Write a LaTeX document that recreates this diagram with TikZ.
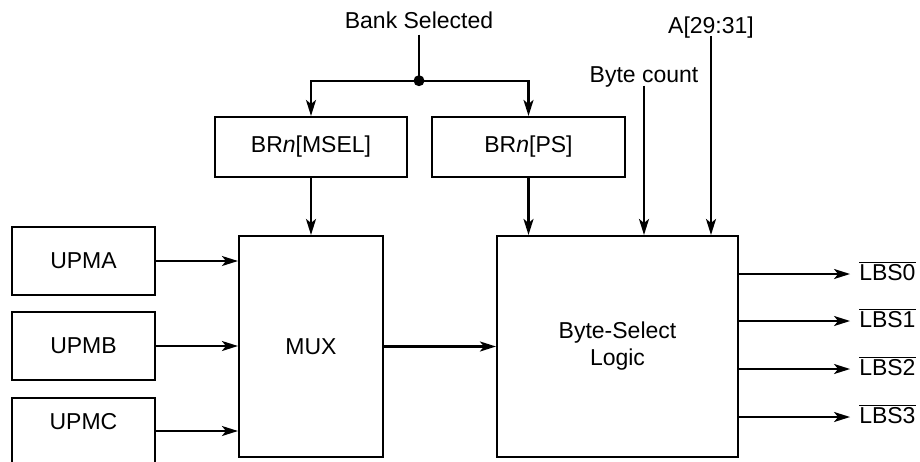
\documentclass[tikz,border=0pt]{standalone}
\usepackage{fontspec}
\setmainfont{Liberation Sans}
\usetikzlibrary{arrows.meta,calc}
\begin{document}
\begin{tikzpicture}[x=1pt,y=-1pt,
  every node/.append style={font=\fontsize{23}{27}\selectfont},
  box/.style={draw, line width=2.1pt, inner sep=0pt, align=center},
  lbl/.style={inner sep=1pt, text depth=0.25em},
  arr/.style={line width=2.1pt, -{Stealth[length=16pt,width=10pt,inset=4pt]}},
  wire/.style={line width=2.1pt}]
\useasboundingbox (0,0) rectangle (920,461);
\begin{scope}
\clip (0,0) rectangle (920,461);
% left sources
\node[box, minimum width=143, minimum height=68] (upma) at (83.5,261) {UPMA};
\node[box, minimum width=143, minimum height=68] (upmb) at (83.5,346) {UPMB};
\node[box, minimum width=143, minimum height=90, anchor=north] (upmc) at (83.5,397) {};
\node (upmctxt) at (83.5,422) {UPMC};
% main blocks
\node[box, minimum width=144, minimum height=221] (mux) at (311,346.5) {MUX};
\node[box, minimum width=192, minimum height=60] (msel) at (311,147) {BR\textit{n}[MSEL]};
\node[box, minimum width=193, minimum height=60] (ps) at (528.5,147) {BR\textit{n}[PS]};
\node[box, minimum width=241, minimum height=221] (bsl) at (617.5,346.5) {Byte-Select\\Logic};
% top labels
\node[lbl, anchor=base, inner ysep=4pt] (bank) at (419,28) {Bank Selected};
\node[lbl, anchor=base] (bcnt) at (644,82) {Byte count};
\node[lbl, anchor=base, inner ysep=0pt] (addr) at (711,33.5) {A[29:31]};
% bank selected fan-out
\coordinate (j) at ([yshift=-46pt]bank.south);
\draw[wire] (bank.south) -- (j);
\fill (j) circle (5.5);
\draw[arr] (j) -| (msel.north);
\draw[arr] (j) -| (ps.north);
% vertical inputs
\draw[arr] (msel.south) -- (mux.north);
\draw[arr] (ps.south) -- (ps.south |- bsl.north);
\draw[arr] (bcnt.south) -- (bcnt.south |- bsl.north);
\draw[arr] (addr.south) -- (addr.south |- bsl.north);
% UPM inputs
\draw[arr] (upma.east) -- (upma.east -| mux.west);
\draw[arr] (upmb.east) -- (upmb.east -| mux.west);
\coordinate (c) at ([yshift=-34pt]upmc.north east);
\draw[arr] (c) -- (c -| mux.west);
\draw[arr] (mux.east) -- (bsl.west);
% outputs
\foreach \i/\dy in {0/72.5,1/25.5,2/-22.5,3/-70.5}{
  \coordinate (o\i) at ([yshift=\dy pt]bsl.east);
  \node[anchor=base west, inner xsep=9pt, inner ysep=0pt] (lbs\i) at ([yshift=-6pt, xshift=111pt]o\i) {$\overline{\mbox{LBS\i}}$};
  \draw[arr] (o\i) -- (o\i -| lbs\i.west);
}
\end{scope}
\end{tikzpicture}
\end{document}
